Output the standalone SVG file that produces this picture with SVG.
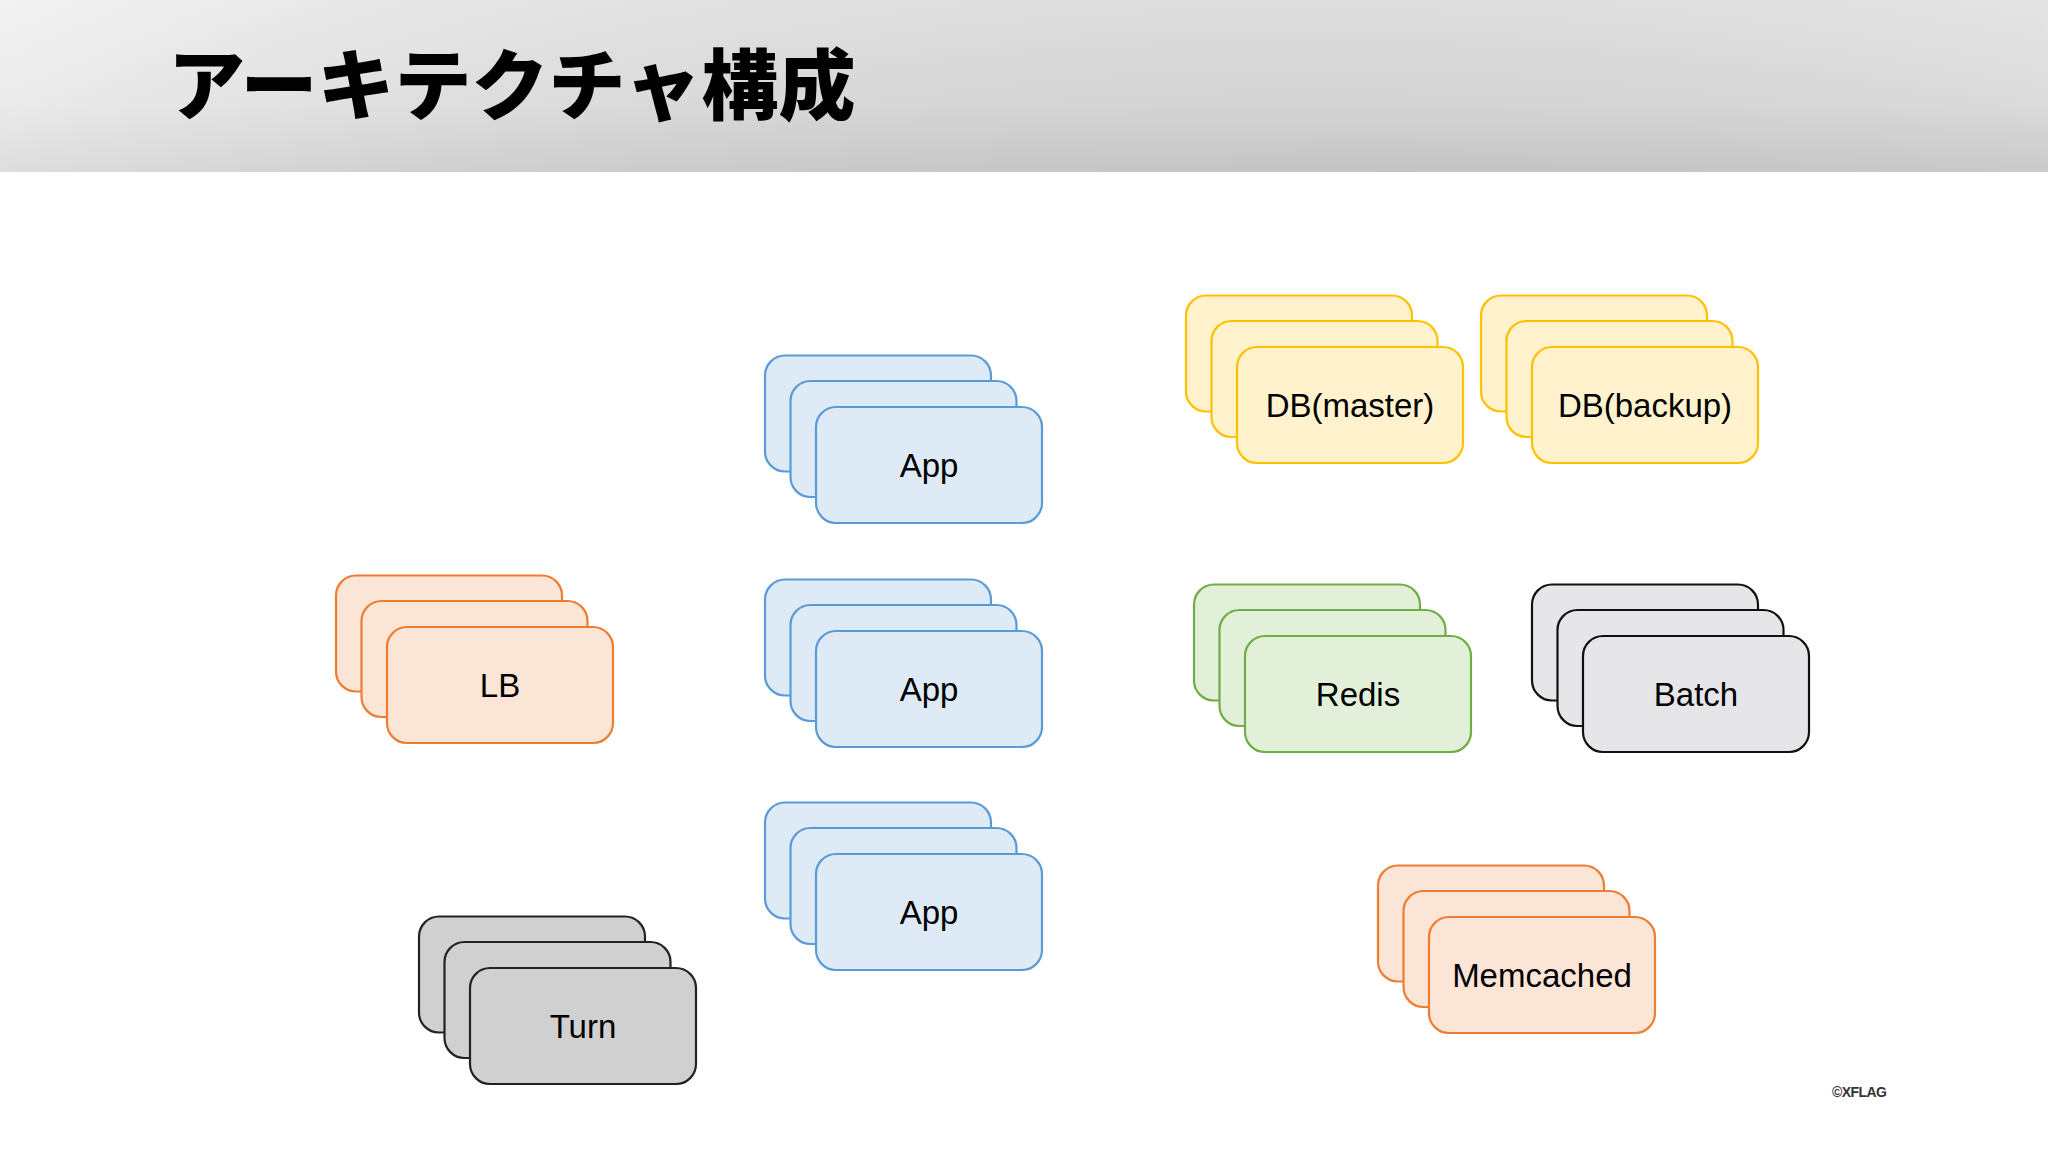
<svg xmlns="http://www.w3.org/2000/svg" width="2048" height="1152" viewBox="0 0 2048 1152">
<defs>
<linearGradient id="hdr" x1="0" y1="0" x2="0" y2="1">
<stop offset="0" stop-color="#eeeeee"/>
<stop offset="0.6" stop-color="#e4e4e4"/>
<stop offset="1" stop-color="#d2d2d2"/>
</linearGradient>
<linearGradient id="hdrh" x1="0" y1="0" x2="1" y2="0">
<stop offset="0" stop-color="#ffffff" stop-opacity="0.25"/>
<stop offset="1" stop-color="#000000" stop-opacity="0.04"/>
</linearGradient>
<style>
.card{stroke-width:2.2}
.orange .card{fill:#FBE5D6;stroke:#ED7D31}
.blue .card{fill:#DEEBF7;stroke:#5B9BD5}
.yellow .card{fill:#FFF2CC;stroke:#FFC000}
.green .card{fill:#E2F0D9;stroke:#70AD47}
.lgray .card{fill:#E6E5E8;stroke:#111111}
.dgray .card{fill:#D0D0D0;stroke:#222222}
.lbl{font-family:"Liberation Sans",Arial,sans-serif;font-size:33px;fill:#000;text-anchor:middle}
</style>
</defs>
<rect x="0" y="0" width="2048" height="1152" fill="#ffffff"/>
<rect x="0" y="0" width="2048" height="172" fill="url(#hdr)"/>
<rect x="0" y="0" width="2048" height="172" fill="url(#hdrh)"/>
<text x="168" y="114" font-family="'Noto Sans CJK JP',sans-serif" font-weight="900" font-size="77" fill="#000">アーキテクチャ構成</text>

<g id="connectors"></g>

<g id="lb" class="orange" transform="translate(336,575.5)">
<rect class="card" x="0" y="0" width="226" height="116" rx="20"/>
<rect class="card" x="25.5" y="25.5" width="226" height="116" rx="20"/>
<rect class="card" x="51" y="51.5" width="226" height="116" rx="20"/>
<text class="lbl" x="164" y="121.5">LB</text>
</g>

<g id="app1" class="blue" transform="translate(765,355.5)">
<rect class="card" x="0" y="0" width="226" height="116" rx="20"/>
<rect class="card" x="25.5" y="25.5" width="226" height="116" rx="20"/>
<rect class="card" x="51" y="51.5" width="226" height="116" rx="20"/>
<text class="lbl" x="164" y="121.5">App</text>
</g>

<g id="app2" class="blue" transform="translate(765,579.5)">
<rect class="card" x="0" y="0" width="226" height="116" rx="20"/>
<rect class="card" x="25.5" y="25.5" width="226" height="116" rx="20"/>
<rect class="card" x="51" y="51.5" width="226" height="116" rx="20"/>
<text class="lbl" x="164" y="121.5">App</text>
</g>

<g id="app3" class="blue" transform="translate(765,802.5)">
<rect class="card" x="0" y="0" width="226" height="116" rx="20"/>
<rect class="card" x="25.5" y="25.5" width="226" height="116" rx="20"/>
<rect class="card" x="51" y="51.5" width="226" height="116" rx="20"/>
<text class="lbl" x="164" y="121.5">App</text>
</g>

<g id="db-master" class="yellow" transform="translate(1186,295.5)">
<rect class="card" x="0" y="0" width="226" height="116" rx="20"/>
<rect class="card" x="25.5" y="25.5" width="226" height="116" rx="20"/>
<rect class="card" x="51" y="51.5" width="226" height="116" rx="20"/>
<text class="lbl" x="164" y="121.5">DB(master)</text>
</g>

<g id="db-backup" class="yellow" transform="translate(1481,295.5)">
<rect class="card" x="0" y="0" width="226" height="116" rx="20"/>
<rect class="card" x="25.5" y="25.5" width="226" height="116" rx="20"/>
<rect class="card" x="51" y="51.5" width="226" height="116" rx="20"/>
<text class="lbl" x="164" y="121.5">DB(backup)</text>
</g>

<g id="redis" class="green" transform="translate(1194,584.5)">
<rect class="card" x="0" y="0" width="226" height="116" rx="20"/>
<rect class="card" x="25.5" y="25.5" width="226" height="116" rx="20"/>
<rect class="card" x="51" y="51.5" width="226" height="116" rx="20"/>
<text class="lbl" x="164" y="121.5">Redis</text>
</g>

<g id="batch" class="lgray" transform="translate(1532,584.5)">
<rect class="card" x="0" y="0" width="226" height="116" rx="20"/>
<rect class="card" x="25.5" y="25.5" width="226" height="116" rx="20"/>
<rect class="card" x="51" y="51.5" width="226" height="116" rx="20"/>
<text class="lbl" x="164" y="121.5">Batch</text>
</g>

<g id="memcached" class="orange" transform="translate(1378,865.5)">
<rect class="card" x="0" y="0" width="226" height="116" rx="20"/>
<rect class="card" x="25.5" y="25.5" width="226" height="116" rx="20"/>
<rect class="card" x="51" y="51.5" width="226" height="116" rx="20"/>
<text class="lbl" x="164" y="121.5">Memcached</text>
</g>

<g id="turn" class="dgray" transform="translate(419,916.5)">
<rect class="card" x="0" y="0" width="226" height="116" rx="20"/>
<rect class="card" x="25.5" y="25.5" width="226" height="116" rx="20"/>
<rect class="card" x="51" y="51.5" width="226" height="116" rx="20"/>
<text class="lbl" x="164" y="121.5">Turn</text>
</g>

<text x="1832" y="1097" font-family="'Liberation Sans',Arial,sans-serif" font-size="14" font-weight="bold" fill="#333" textLength="55">©XFLAG</text>
</svg>
